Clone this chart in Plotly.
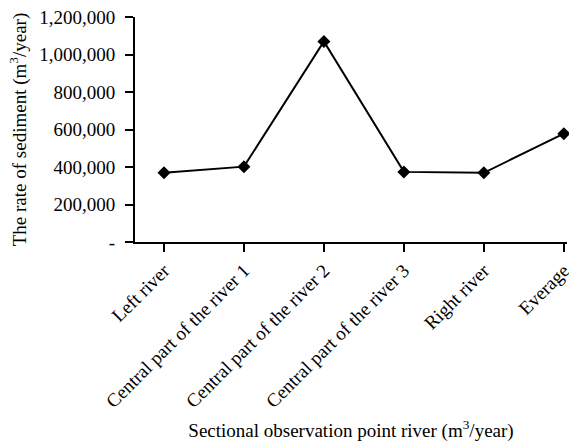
import plotly.graph_objects as go

categories = ["Left river", "Central part of the river 1", "Central part of the river 2",
              "Central part of the river 3", "Right river", "Everage"]
sediment = [370000, 402000, 1070000, 374000, 369000, 578000]

y_tickvals = [0, 200000, 400000, 600000, 800000, 1000000, 1200000]
y_ticktext = ["-", "200,000", "400,000", "600,000", "800,000", "1,000,000", "1,200,000"]

FONT = "Liberation Serif, Times New Roman, serif"
FS = 19

fig = go.Figure()
fig.add_trace(go.Scatter(
    x=list(range(len(categories))), y=sediment, mode="lines+markers",
    line=dict(color="black", width=2),
    marker=dict(symbol="diamond", size=10, color="black"),
    showlegend=False, cliponaxis=False,
))

fig.update_layout(
    width=569, height=445,
    margin=dict(l=135, r=2, t=17, b=203),
    paper_bgcolor="white", plot_bgcolor="white",
    font=dict(family=FONT, size=FS, color="black"),
    xaxis=dict(
        range=[-0.3625, 5.04],
        tickvals=list(range(len(categories))), ticktext=categories,
        tickangle=-45, ticks="outside", ticklen=8, tickwidth=2, tickcolor="black",
        ticklabeloverflow="allow",
        showline=True, linecolor="black", linewidth=2,
        showgrid=False, zeroline=False,
        tickfont=dict(family=FONT, size=FS),
        title=dict(text="Sectional observation point river (m<sup>3</sup>/year)",
                   font=dict(family=FONT, size=FS), standoff=13),
        automargin=False,
    ),
    yaxis=dict(
        range=[0, 1200000],
        tickvals=y_tickvals, ticktext=y_ticktext,
        ticks="outside", ticklen=8, tickwidth=2, tickcolor="black",
        ticklabeloverflow="allow",
        showline=True, linecolor="black", linewidth=2,
        showgrid=False, zeroline=False,
        tickfont=dict(family=FONT, size=FS),
        ticklabelstandoff=6,
        title=dict(text="The rate of sediment (m<sup>3</sup>/year)",
                   font=dict(family=FONT, size=FS), standoff=8),
        automargin=False,
    ),
)

fig.write_html("out.html", config={"displayModeBar": False},
               post_script="document.body.style.margin='0';document.body.style.overflow='hidden';")
